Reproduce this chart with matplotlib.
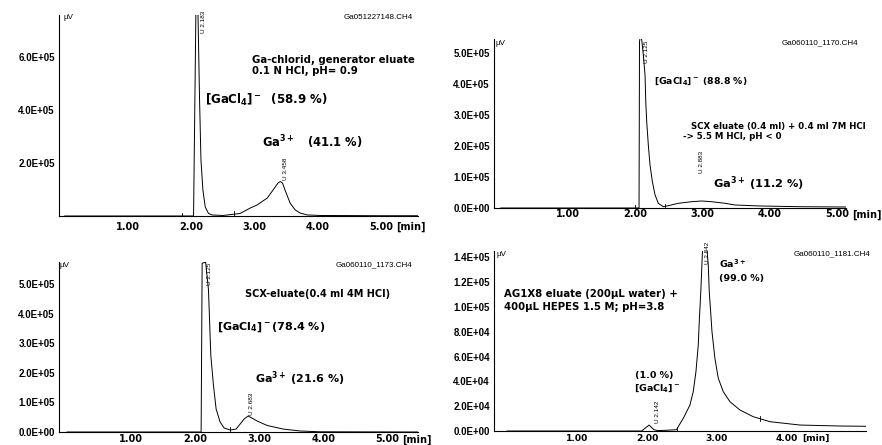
import matplotlib
matplotlib.use("Agg")
import matplotlib.pyplot as plt
import numpy as np

plt.rcParams['font.family'] = ['DejaVu Sans']
plt.rcParams['mathtext.default'] = 'bf'

# --- chromatogram 1: Ga051227148.CH4 (time in min, signal in uV)
t1 = [0.0, 1.80, 2.00, 2.035, 2.073, 2.104, 2.13, 2.152, 2.183, 2.22, 2.27, 2.325, 2.50,
      2.77, 2.93, 3.04, 3.20, 3.29, 3.37, 3.405, 3.44, 3.48, 3.56, 3.64, 3.72, 3.83, 4.04, 5.0, 5.58]
s1 = [0, 0, 0, 0, 7.9e5, 7.8e5, 4.39e5, 2.12e5, 0.98e5, 0.34e5, 0.10e5, 0.04e5, 0.02e5,
      0.095e5, 0.30e5, 0.42e5, 0.68e5, 0.98e5, 1.25e5, 1.30e5, 1.25e5, 0.98e5, 0.49e5, 0.23e5,
      0.11e5, 0.04e5, 0.02e5, 0.01e5, 0.01e5]
m1 = [1.856, 2.678]

# --- chromatogram 2: Ga060110_1170.CH4
t2 = [0.0, 2.055, 2.062, 2.077, 2.095, 2.119, 2.144, 2.155, 2.169, 2.193, 2.218, 2.253, 2.293,
      2.342, 2.416, 2.49, 2.639, 2.838, 2.987, 3.135, 3.333, 3.48, 3.85, 4.45, 5.13]
s2 = [0, 0, 5.36e5, 5.6e5, 5.42e5, 4.93e5, 4.29e5, 3.43e5, 2.78e5, 2.03e5, 1.39e5, 0.85e5, 0.42e5,
      0.15e5, 0.042e5, 0.074e5, 0.152e5, 0.203e5, 0.226e5, 0.203e5, 0.152e5, 0.097e5, 0.065e5,
      0.042e5, 0.032e5]
m2 = [1.995, 2.44]

# --- chromatogram 3: Ga060110_1173.CH4
t3 = [0.0, 2.094, 2.11, 2.164, 2.208, 2.223, 2.245, 2.286, 2.328, 2.39, 2.453, 2.547, 2.64,
      2.703, 2.766, 2.828, 2.89, 2.97, 3.125, 3.375, 3.64, 3.95, 5.48]
s3 = [0, 0, 5.71e5, 5.74e5, 4.83e5, 3.95e5, 2.6e5, 1.59e5, 0.78e5, 0.34e5, 0.135e5, 0.068e5, 0.10e5,
      0.27e5, 0.44e5, 0.54e5, 0.47e5, 0.37e5, 0.22e5, 0.10e5, 0.034e5, 0.007e5, 0]
m3 = [2.547]

# --- chromatogram 4: Ga060110_1181.CH4
t4 = [0.0, 1.924, 2.03, 2.10, 2.16, 2.42, 2.519, 2.614, 2.661, 2.70, 2.733, 2.747, 2.767, 2.781,
      2.796, 2.853, 2.876, 2.89, 2.91, 2.929, 2.971, 3.019, 3.09, 3.186, 3.329, 3.519, 3.757,
      4.186, 4.77, 5.13]
s4 = [0, 0, 4.8e3, 1.0e3, 0.3e3, 1.0e3, 10.2e3, 20.9e3, 31.7e3, 47.8e3, 69.3e3, 88e3, 109.6e3,
      128.3e3, 149e3, 149e3, 133.7e3, 112.2e3, 96e3, 80e3, 58.5e3, 42.5e3, 31.7e3, 23.6e3,
      16.9e3, 11.5e3, 7.5e3, 4.8e3, 4.0e3, 3.8e3]
m4 = [2.424, 3.614]

xt_a = [1, 2, 3, 4, 5]
xl_a = ["1.00", "2.00", "3.00", "4.00", "5.00"]
xt_b = [1, 2, 3, 4]
xl_b = ["1.00", "2.00", "3.00", "4.00"]
yt1 = [2e5, 4e5, 6e5]
yl1 = ["2.0E+05", "4.0E+05", "6.0E+05"]
yt23 = [0, 1e5, 2e5, 3e5, 4e5, 5e5]
yl23 = ["0.0E+00", "1.0E+05", "2.0E+05", "3.0E+05", "4.0E+05", "5.0E+05"]
yt4 = [0, 2e4, 4e4, 6e4, 8e4, 1e5, 1.2e5, 1.4e5]
yl4 = ["0.0E+00", "2.0E+04", "4.0E+04", "6.0E+04", "8.0E+04", "1.0E+05", "1.2E+05", "1.4E+05"]

W, H = 882, 445
fig = plt.figure(figsize=(W / 100, H / 100), dpi=100)


def panel(px_box, t, s, marks, xlim, ylim, xt, xl, yt, yl, xpad, xfs=7):
    l, r, top, bot = px_box
    ax = fig.add_axes([l / W, (H - bot) / H, (r - l) / W, (bot - top) / H])
    ax.plot(t, s, color='black', lw=0.7)
    h = 0.03 * ylim[1]
    for m in marks:
        v = np.interp(m, t, s)
        ax.plot([m, m], [v - h / 2, v + h / 2], color='black', lw=0.6)
    ax.set_xlim(xlim)
    ax.set_ylim(ylim)
    for sp in ['top', 'right']:
        ax.spines[sp].set_visible(False)
    for sp in ['left', 'bottom']:
        ax.spines[sp].set_linewidth(0.8)
    ax.set_xticks(xt)
    ax.set_xticklabels(xl, fontsize=xfs, fontweight='bold', family='DejaVu Sans')
    ax.set_yticks(yt)
    ax.set_yticklabels(yl, fontsize=7, fontweight='bold', family='Liberation Sans')
    ax.tick_params(axis='x', length=0, pad=xpad)
    ax.tick_params(axis='y', length=0, pad=3)
    ax.annotate('[min]', xy=(xt[-1], 0), xytext=(11, -xpad), textcoords='offset points',
                ha='left', va='top', fontsize=xfs, fontweight='bold')
    return ax


small = dict(family='Liberation Sans', fontsize=5.8)
rot = dict(family='Liberation Sans', fontsize=4.6, rotation=90, ha='center', va='bottom')

# panel 1
ax1 = panel((59, 418, 15, 216), t1, s1, m1, (-0.09, 5.58), (0, 7.6e5), xt_a, xl_a, yt1, yl1, 4.3)
ax1.text(-0.02, 7.52e5, 'µV', va='center', ha='left', **small)
ax1.text(5.5, 7.52e5, 'Ga051227148.CH4', va='center', ha='right', **small)
ax1.text(2.96, 5.9e5, 'Ga-chlorid, generator eluate', fontsize=7.3, fontweight='bold', va='center')
ax1.text(2.96, 5.48e5, '0.1 N HCl, pH= 0.9', fontsize=7.3, fontweight='bold', va='center')
ax1.text(2.22, 4.39e5, r'[GaCl$_4$]$^-$  (58.9 %)', fontsize=8.5, fontweight='bold', va='center')
ax1.text(3.12, 2.8e5, r'Ga$^{3+}$   (41.1 %)', fontsize=8.3, fontweight='bold', va='center')
ax1.text(2.188, 6.92e5, 'U 2.183', **rot)
ax1.text(3.483, 1.36e5, 'U 3.458', **rot)

# panel 2
ax2 = panel((494, 846, 39, 208), t2, s2, m2, (-0.1, 5.13), (0, 5.45e5), xt_a, xl_a, yt23, yl23, 1.0)
ax2.text(-0.085, 5.32e5, 'µV', va='center', ha='left', **small)
ax2.text(5.31, 5.32e5, 'Ga060110_1170.CH4', va='center', ha='right', **small)
ax2.text(2.28, 4.1e5, r'[GaCl$_4$]$^-$ (88.8 %)', fontsize=6.7, fontweight='bold', va='center')
ax2.text(2.83, 2.64e5, 'SCX eluate (0.4 ml) + 0.4 ml 7M HCl', fontsize=6.2, fontweight='bold', va='center')
ax2.text(2.71, 2.32e5, '-> 5.5 M HCl, pH < 0', fontsize=6.2, fontweight='bold', va='center')
ax2.text(3.155, 7.7e4, r'Ga$^{3+}$ (11.2 %)', fontsize=8.2, fontweight='bold', va='center')
ax2.text(2.169, 4.68e5, 'U 2.125', **rot)
ax2.text(2.976, 1.13e5, 'U 2.883', **rot)

# panel 3
ax3 = panel((59, 418, 262, 432), t3, s3, m3, (-0.125, 5.48), (0, 5.75e5), xt_a, xl_a, yt23, yl23, 1.8)
ax3.text(-0.11, 5.64e5, 'µV', va='center', ha='left', **small)
ax3.text(5.39, 5.64e5, 'Ga060110_1173.CH4', va='center', ha='right', **small)
ax3.text(2.78, 4.66e5, 'SCX-eluate(0.4 ml 4M HCl)', fontsize=7, fontweight='bold', va='center')
ax3.text(2.34, 3.55e5, r'[GaCl$_4$]$^-$(78.4 %)', fontsize=8, fontweight='bold', va='center')
ax3.text(2.94, 1.79e5, r'Ga$^{3+}$ (21.6 %)', fontsize=8, fontweight='bold', va='center')
ax3.text(2.224, 4.97e5, 'U 2.125', **rot)
ax3.text(2.886, 0.57e5, 'U 2.683', **rot)

# panel 4
ax4 = panel((494, 866, 251, 431), t4, s4, m4, (-0.186, 5.13), (0, 1.45e5), xt_b, xl_b, yt4, yl4, 2.2, 6.6)
ax4.text(-0.157, 1.418e5, 'µV', va='center', ha='left', **small)
ax4.text(5.2, 1.426e5, 'Ga060110_1181.CH4', va='center', ha='right', **small)
ax4.text(-0.043, 1.104e5, 'AG1X8 eluate (200µL water) +', fontsize=7.3, fontweight='bold', va='center')
ax4.text(-0.043, 0.999e5, '400µL HEPES 1.5 M; pH=3.8', fontsize=7.3, fontweight='bold', va='center')
ax4.text(1.829, 4.51e4, '(1.0 %)', fontsize=6.8, fontweight='bold', va='center')
ax4.text(1.814, 3.46e4, r'[GaCl$_4$]$^-$', fontsize=6.8, fontweight='bold', va='center')
ax4.text(3.03, 1.345e5, r'Ga$^{3+}$', fontsize=6.8, fontweight='bold', va='center')
ax4.text(3.03, 1.225e5, '(99.0 %)', fontsize=6.8, fontweight='bold', va='center')
ax4.text(2.871, 1.345e5, 'U 2.842', **rot)
ax4.text(2.157, 0.064e5, 'U 2.142', **rot)

fig.savefig('out.png', dpi=100)
